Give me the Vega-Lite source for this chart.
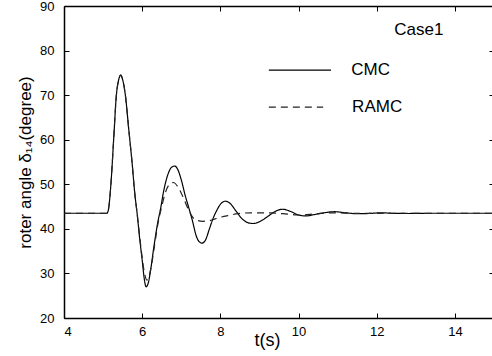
{
  "$schema": "https://vega.github.io/schema/vega-lite/v6.json",
  "width": 430,
  "height": 312,
  "autosize": {"type": "none"},
  "padding": {"left": 64, "top": 6, "right": 0, "bottom": 38},
  "background": "white",
  "config": {
    "view": {"stroke": null},
    "font": "Liberation Sans",
    "axis": {
      "grid": false,
      "domainColor": "black",
      "domainWidth": 1.5,
      "tickColor": "black",
      "tickSize": -5,
      "tickWidth": 1,
      "labelColor": "black",
      "labelFont": "Liberation Sans",
      "labelFontSize": 13,
      "titleColor": "black",
      "titleFont": "Liberation Sans",
      "titleFontSize": 18,
      "titleFontWeight": "normal"
    }
  },
  "datasets": {
    "series": [
      {"t": 4.0, "v": 43.5, "s": "CMC"}, {"t": 5.0, "v": 43.5, "s": "CMC"}, {"t": 5.1, "v": 43.5, "s": "CMC"},
      {"t": 5.14, "v": 44.5, "s": "CMC"}, {"t": 5.2, "v": 50, "s": "CMC"}, {"t": 5.27, "v": 60, "s": "CMC"},
      {"t": 5.34, "v": 70, "s": "CMC"}, {"t": 5.4, "v": 73.5, "s": "CMC"}, {"t": 5.45, "v": 74.5, "s": "CMC"},
      {"t": 5.5, "v": 73.5, "s": "CMC"}, {"t": 5.57, "v": 70, "s": "CMC"}, {"t": 5.66, "v": 62, "s": "CMC"},
      {"t": 5.74, "v": 55, "s": "CMC"}, {"t": 5.81, "v": 48, "s": "CMC"}, {"t": 5.87, "v": 43.5, "s": "CMC"},
      {"t": 5.94, "v": 37.5, "s": "CMC"}, {"t": 6.0, "v": 33, "s": "CMC"}, {"t": 6.05, "v": 29, "s": "CMC"},
      {"t": 6.1, "v": 27, "s": "CMC"}, {"t": 6.16, "v": 28, "s": "CMC"}, {"t": 6.22, "v": 31, "s": "CMC"},
      {"t": 6.3, "v": 36, "s": "CMC"}, {"t": 6.4, "v": 41.5, "s": "CMC"}, {"t": 6.47, "v": 44.5, "s": "CMC"},
      {"t": 6.55, "v": 48.5, "s": "CMC"}, {"t": 6.65, "v": 52, "s": "CMC"}, {"t": 6.75, "v": 53.8, "s": "CMC"},
      {"t": 6.83, "v": 54.1, "s": "CMC"}, {"t": 6.9, "v": 53.5, "s": "CMC"}, {"t": 7.0, "v": 51, "s": "CMC"},
      {"t": 7.1, "v": 47.5, "s": "CMC"}, {"t": 7.2, "v": 44.5, "s": "CMC"}, {"t": 7.28, "v": 42, "s": "CMC"},
      {"t": 7.38, "v": 38.5, "s": "CMC"}, {"t": 7.45, "v": 37.2, "s": "CMC"}, {"t": 7.53, "v": 36.8, "s": "CMC"},
      {"t": 7.62, "v": 37.5, "s": "CMC"}, {"t": 7.72, "v": 40, "s": "CMC"}, {"t": 7.82, "v": 42.5, "s": "CMC"},
      {"t": 7.9, "v": 44, "s": "CMC"}, {"t": 8.0, "v": 45.5, "s": "CMC"}, {"t": 8.13, "v": 46.2, "s": "CMC"},
      {"t": 8.25, "v": 45.7, "s": "CMC"}, {"t": 8.4, "v": 44, "s": "CMC"}, {"t": 8.55, "v": 42.3, "s": "CMC"},
      {"t": 8.7, "v": 41.4, "s": "CMC"}, {"t": 8.84, "v": 41.2, "s": "CMC"}, {"t": 9.0, "v": 41.6, "s": "CMC"},
      {"t": 9.2, "v": 42.7, "s": "CMC"}, {"t": 9.4, "v": 43.9, "s": "CMC"}, {"t": 9.59, "v": 44.4, "s": "CMC"},
      {"t": 9.8, "v": 43.9, "s": "CMC"}, {"t": 10.0, "v": 43.1, "s": "CMC"}, {"t": 10.19, "v": 42.9, "s": "CMC"},
      {"t": 10.4, "v": 43.2, "s": "CMC"}, {"t": 10.65, "v": 43.6, "s": "CMC"}, {"t": 10.92, "v": 43.85, "s": "CMC"},
      {"t": 11.2, "v": 43.6, "s": "CMC"}, {"t": 11.5, "v": 43.4, "s": "CMC"}, {"t": 11.8, "v": 43.45, "s": "CMC"},
      {"t": 12.1, "v": 43.6, "s": "CMC"}, {"t": 12.4, "v": 43.5, "s": "CMC"}, {"t": 12.8, "v": 43.45, "s": "CMC"},
      {"t": 13.3, "v": 43.5, "s": "CMC"}, {"t": 15.0, "v": 43.5, "s": "CMC"},

      {"t": 4.0, "v": 43.5, "s": "RAMC"}, {"t": 5.0, "v": 43.5, "s": "RAMC"}, {"t": 5.1, "v": 43.5, "s": "RAMC"},
      {"t": 5.14, "v": 44.5, "s": "RAMC"}, {"t": 5.2, "v": 50, "s": "RAMC"}, {"t": 5.27, "v": 60, "s": "RAMC"},
      {"t": 5.34, "v": 70, "s": "RAMC"}, {"t": 5.4, "v": 73.5, "s": "RAMC"}, {"t": 5.45, "v": 74.5, "s": "RAMC"},
      {"t": 5.5, "v": 73.5, "s": "RAMC"}, {"t": 5.57, "v": 70, "s": "RAMC"}, {"t": 5.66, "v": 62, "s": "RAMC"},
      {"t": 5.74, "v": 55, "s": "RAMC"}, {"t": 5.81, "v": 48, "s": "RAMC"}, {"t": 5.87, "v": 43.5, "s": "RAMC"},
      {"t": 5.94, "v": 38, "s": "RAMC"}, {"t": 6.0, "v": 33.5, "s": "RAMC"}, {"t": 6.06, "v": 30, "s": "RAMC"},
      {"t": 6.12, "v": 28.5, "s": "RAMC"}, {"t": 6.18, "v": 29.5, "s": "RAMC"}, {"t": 6.25, "v": 32.5, "s": "RAMC"},
      {"t": 6.32, "v": 36.5, "s": "RAMC"}, {"t": 6.4, "v": 41, "s": "RAMC"}, {"t": 6.5, "v": 45, "s": "RAMC"},
      {"t": 6.6, "v": 48.3, "s": "RAMC"}, {"t": 6.7, "v": 50, "s": "RAMC"}, {"t": 6.8, "v": 50.4, "s": "RAMC"},
      {"t": 6.9, "v": 49.6, "s": "RAMC"}, {"t": 7.0, "v": 48, "s": "RAMC"}, {"t": 7.1, "v": 46, "s": "RAMC"},
      {"t": 7.2, "v": 44, "s": "RAMC"}, {"t": 7.3, "v": 42.5, "s": "RAMC"}, {"t": 7.4, "v": 41.9, "s": "RAMC"},
      {"t": 7.55, "v": 41.7, "s": "RAMC"}, {"t": 7.7, "v": 41.8, "s": "RAMC"}, {"t": 7.85, "v": 42.2, "s": "RAMC"},
      {"t": 8.0, "v": 42.6, "s": "RAMC"}, {"t": 8.2, "v": 43.0, "s": "RAMC"}, {"t": 8.45, "v": 43.4, "s": "RAMC"},
      {"t": 8.8, "v": 43.6, "s": "RAMC"}, {"t": 9.2, "v": 43.6, "s": "RAMC"}, {"t": 9.6, "v": 43.4, "s": "RAMC"},
      {"t": 9.9, "v": 43.15, "s": "RAMC"}, {"t": 10.1, "v": 43.1, "s": "RAMC"}, {"t": 10.4, "v": 43.35, "s": "RAMC"},
      {"t": 10.8, "v": 43.6, "s": "RAMC"}, {"t": 11.2, "v": 43.55, "s": "RAMC"}, {"t": 11.6, "v": 43.45, "s": "RAMC"},
      {"t": 12.2, "v": 43.5, "s": "RAMC"}, {"t": 15.0, "v": 43.5, "s": "RAMC"}
    ],
    "legendRows": [
      {"x1": 9.24, "x2": 10.83, "y": 75.6, "lx": 11.35, "s": "CMC"},
      {"x1": 9.24, "x2": 10.63, "y": 67.3, "lx": 11.37, "s": "RAMC"}
    ],
    "notes": [
      {"x": 12.45, "y": 84.6, "text": "Case1"}
    ]
  },
  "layer": [
    {
      "data": {"name": "series"},
      "mark": {"type": "line", "interpolate": "monotone", "strokeWidth": 1.2, "clip": true},
      "encoding": {
        "x": {"field": "t", "type": "quantitative",
              "scale": {"domain": [4, 15], "nice": false, "zero": false},
              "axis": {"orient": "bottom", "values": [4, 6, 8, 10, 12, 14], "title": "t(s)",
                       "labelPadding": 12, "titleX": 203, "titleY": 27, "titleBaseline": "alphabetic", "titleAnchor": "middle"}},
        "y": {"field": "v", "type": "quantitative",
              "scale": {"domain": [20, 90], "nice": false, "zero": false},
              "axis": {"orient": "left", "values": [20, 30, 40, 50, 60, 70, 80, 90], "title": "roter angle δ₁₄(degree)",
                       "titleFontSize": 17, "labelPadding": 15, "titlePadding": 5}},
        "color": {"field": "s", "type": "nominal", "scale": {"domain": ["CMC", "RAMC"], "range": ["#000000", "#222222"]}, "legend": null},
        "strokeDash": {"field": "s", "type": "nominal", "scale": {"domain": ["CMC", "RAMC"], "range": [[1, 0], [7, 5]]}, "legend": null}
      }
    },
    {
      "data": {"name": "legendRows"},
      "mark": {"type": "rule", "strokeWidth": 1.2},
      "encoding": {
        "x": {"field": "x1", "type": "quantitative",
              "axis": {"orient": "top", "values": [4, 6, 8, 10, 12, 14], "labels": false, "title": null}},
        "x2": {"field": "x2"},
        "y": {"field": "y", "type": "quantitative",
              "axis": {"orient": "right", "values": [20, 30, 40, 50, 60, 70, 80, 90], "labels": false, "title": null}},
        "color": {"field": "s", "type": "nominal", "legend": null},
        "strokeDash": {"field": "s", "type": "nominal", "legend": null}
      }
    },
    {
      "data": {"name": "legendRows"},
      "mark": {"type": "text", "align": "left", "baseline": "middle", "fontSize": 17, "font": "Liberation Sans", "color": "black"},
      "encoding": {
        "x": {"field": "lx", "type": "quantitative", "axis": null},
        "y": {"field": "y", "type": "quantitative", "axis": null},
        "text": {"field": "s"}
      }
    },
    {
      "data": {"name": "notes"},
      "mark": {"type": "text", "align": "left", "baseline": "middle", "fontSize": 17, "font": "Liberation Sans", "color": "black"},
      "encoding": {
        "x": {"field": "x", "type": "quantitative", "axis": null},
        "y": {"field": "y", "type": "quantitative", "axis": null},
        "text": {"field": "text"}
      }
    }
  ],
  "resolve": {"axis": {"x": "independent", "y": "independent"}}
}
